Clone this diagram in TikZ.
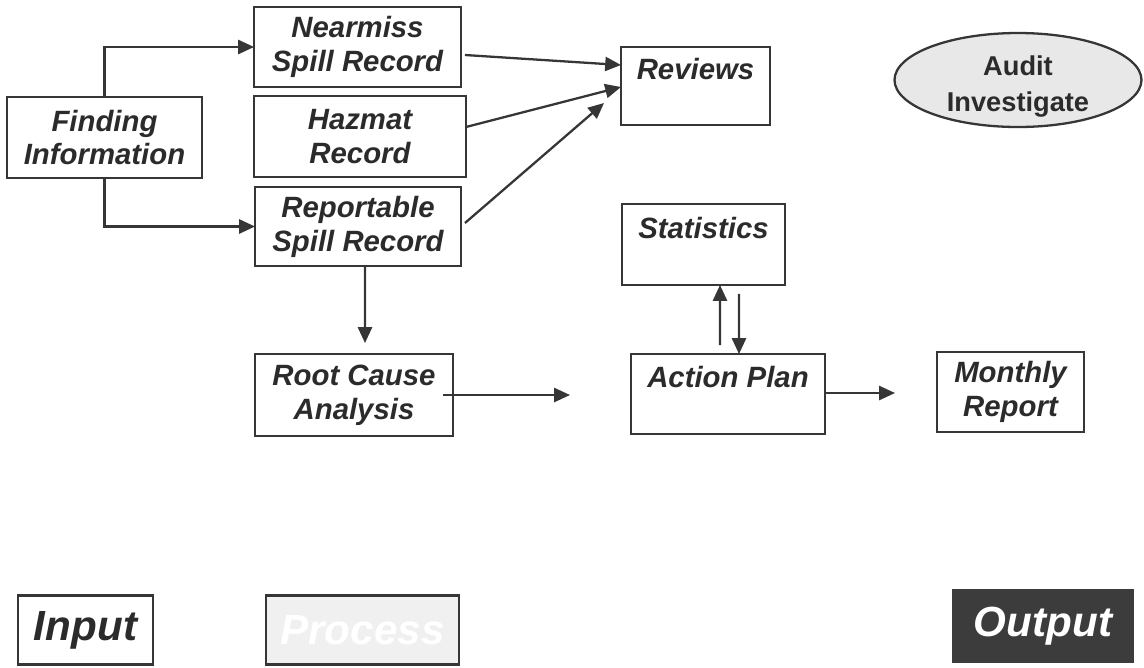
\documentclass[tikz,border=0pt]{standalone}
\usepackage{fontspec}
\setmainfont{Liberation Sans}
\usetikzlibrary{shapes.geometric, arrows.meta, positioning, calc}
\usepackage{xcolor}
\definecolor{Ink}{HTML}{2B2B2B}
\definecolor{Line}{HTML}{363636}
\definecolor{Haze}{HTML}{E8E8E8}
\definecolor{Mist}{HTML}{F0F0F0}
\definecolor{Dark}{HTML}{3C3C3C}

\begin{document}
\begin{tikzpicture}[
            x=0.02cm, y=-0.02cm,
            box/.style={
                rectangle,
                draw=Line,
                fill=white,
                line width=1.3pt,
                inner sep=0pt,
                outer sep=0pt,
                align=center,
                text=Ink,
                font=\bfseries\itshape\fontsize{16.7}{19.3}\selectfont
            },
            auditbox/.style={
                ellipse,
                draw=Line,
                fill=Haze,
                line width=1.3pt,
                inner sep=0pt,
                outer sep=0pt,
                text=Ink,
                minimum width=4.94cm,
                minimum height=1.88cm,
                font=\bfseries\fontsize{15.5}{20.5}\selectfont
            },
            keybox/.style={
                box,
                minimum height=1.38cm,
                font=\bfseries\itshape\fontsize{24}{28}\selectfont
            },
            arrow/.style={-{Triangle[length=9pt, width=8pt]}, line width=1.3pt, color=Line}
        ]
            \useasboundingbox (0,0) rectangle (1144,667);

            % Main flow
            \node[box, minimum width=3.9cm, minimum height=1.62cm] (find) at (104.5,137.5) {Finding\\Information};
            \node[box, minimum width=4.14cm, minimum height=1.6cm] (nearmiss) at (357.5,47) {Nearmiss\\Spill Record};
            \node[box, minimum width=4.24cm, minimum height=1.62cm] (hazmat) at (360,136.5) {Hazmat\\Record};
            \node[box, minimum width=4.12cm, minimum height=1.58cm] (report) at (358,226.5) {Reportable\\Spill Record};
            \node[box, minimum width=2.98cm, minimum height=1.56cm] (reviews) at (695.5,86) {Reviews\\~};
            \node[auditbox] (audit) at (1018,80) {\raisebox{-7pt}[0pt][0pt]{\begin{tabular}{@{}c@{}}Audit\\Investigate\end{tabular}}};
            \node[box, minimum width=3.26cm, minimum height=1.62cm] (stats) at (703.5,244.5) {Statistics\\~};
            \node[box, minimum width=3.96cm, minimum height=1.64cm] (root) at (354,395) {Root Cause\\Analysis};
            \node[box, minimum width=3.88cm, minimum height=1.6cm] (action) at (728,394) {Action Plan\\~};
            \node[box, minimum width=2.94cm, minimum height=1.6cm] (monthly) at (1010.5,392) {Monthly\\Report};

            % Key
            \node[keybox, minimum width=2.7cm] (input) at (85.5,630) {Input};
            \node[keybox, minimum width=3.86cm, fill=Mist, text=white] (process) at (362.5,630) {Process};
            \node[keybox, minimum width=3.6cm, minimum height=1.44cm, fill=Dark, draw=Dark, text=white] (output) at (1043,626) {Output};

            \coordinate (rootgap) at (570,395);
            \coordinate (actiongap) at (895,393);

            % Finding splits
            \draw[arrow] (find.north) |- (nearmiss.west);
            \draw[arrow] (find.south) |- (report.west);

            % Into reviews
            \draw[arrow] ([xshift=0.08cm, yshift=-0.16cm]nearmiss.east) -- ([yshift=0.42cm]reviews.west);
            \draw[arrow] ([yshift=0.19cm]hazmat.east) -- ([yshift=-0.02cm]reviews.west);
            \draw[arrow] ([xshift=0.08cm, yshift=0.07cm]report.east) -- ([xshift=-0.34cm, yshift=-0.34cm]reviews.west);

            % Lower flow
            \draw[arrow] ([xshift=0.14cm]report.south) -- ([xshift=0.22cm, yshift=0.22cm]root.north);
            \draw[arrow] ([xshift=-0.2cm]root.east) -- (rootgap);
            \draw[arrow] ([yshift=0.02cm]action.east) -- (actiongap);
            \draw[arrow] ([xshift=-0.16cm, yshift=0.18cm]action.north) -- ([xshift=0.33cm]stats.south);
            \draw[arrow] ([xshift=0.71cm, yshift=-0.18cm]stats.south) -- ([xshift=0.22cm]action.north);
        \end{tikzpicture}
\end{document}
